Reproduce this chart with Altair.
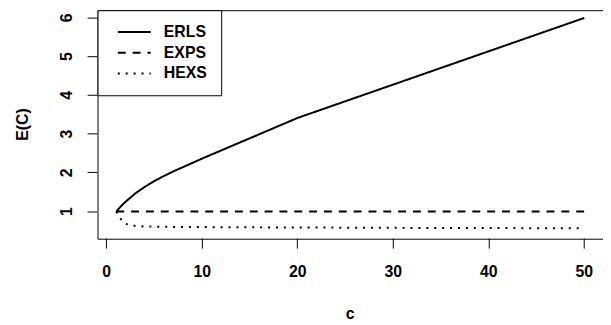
import altair as alt
import pandas as pd

# ---- data ----
c_vals = [1, 1.5, 2, 3, 4, 5, 6, 7, 8, 9, 10, 12, 14, 16, 18, 20, 25, 30, 35, 40, 45, 50]
erls = [1.00, 1.14, 1.26, 1.47, 1.64, 1.79, 1.92, 2.04, 2.15, 2.26, 2.37, 2.58, 2.79, 3.00,
        3.21, 3.42, 3.85, 4.28, 4.71, 5.14, 5.57, 6.00]
exps = [1.00] * len(c_vals)
hexs = [1.00, 0.80, 0.68, 0.63, 0.615, 0.61, 0.607, 0.605, 0.603, 0.601, 0.60, 0.597, 0.595,
        0.593, 0.591, 0.59, 0.585, 0.58, 0.578, 0.575, 0.572, 0.57]

series_names = ["ERLS", "EXPS", "HEXS"]
x_ticks = [0, 10, 20, 30, 40, 50]
y_ticks = [1, 2, 3, 4, 5, 6]

rows = []
for name, vals in zip(series_names, [erls, exps, hexs]):
    for i, (c, v) in enumerate(zip(c_vals, vals)):
        rows.append({"c": c, "E": v, "series": name, "order": i})
df = pd.DataFrame(rows)

FONT = "Liberation Sans"
FS = 16

chart = alt.Chart(df).mark_line(color="black", strokeWidth=2).encode(
    x=alt.X("c:Q",
            scale=alt.Scale(domain=[-0.96, 51.96], nice=False, zero=False),
            axis=alt.Axis(values=x_ticks, title="c", domain=False, grid=False,
                          tickSize=10, tickColor="black", tickWidth=1, translate=0,
                          labelFont=FONT, labelFontSize=FS, labelFontWeight="bold",
                          labelColor="black", labelBaseline="alphabetic", labelPadding=29,
                          labelFlush=False,
                          titleFont=FONT, titleFontSize=FS, titleFontWeight="bold",
                          titleColor="black", titleBaseline="alphabetic", titleY=81)),
    y=alt.Y("E:Q",
            scale=alt.Scale(domain=[0.3, 6.2], nice=False, zero=False),
            axis=alt.Axis(values=y_ticks, title="E(C)", domain=False, grid=False,
                          tickSize=10, tickColor="black", tickWidth=1, translate=0,
                          labelFont=FONT, labelFontSize=FS, labelFontWeight="bold",
                          labelColor="black", labelAngle=270, labelAlign="center",
                          labelBaseline="alphabetic", labelPadding=16, labelFlush=False,
                          titleFont=FONT, titleFontSize=FS, titleFontWeight="bold",
                          titleColor="black", titleAngle=270, titleAlign="center",
                          titleBaseline="alphabetic", titleX=-70)),
    strokeDash=alt.StrokeDash(
        "series:N",
        scale=alt.Scale(domain=series_names, range=[[1, 0], [8, 7], [2, 6]]),
        legend=alt.Legend(orient="none", legendX=0, legendY=0, title=None,
                          strokeColor="black", fillColor="white", padding=14,
                          symbolType="M-0.75,0H15.9", symbolSize=16,
                          symbolStrokeWidth=2, symbolStrokeColor="black",
                          labelFont=FONT, labelFontSize=FS, labelFontWeight="bold",
                          labelColor="black", labelOffset=37, rowPadding=5),
    ),
    detail="series:N",
    order="order:Q",
).properties(
    width=511,
    height=231,
    background="white",
    autosize=alt.AutoSizeParams(type="none"),
    padding={"left": 90.5, "top": 0.5, "right": 0, "bottom": 84},
).configure_view(
    stroke="black", strokeWidth=1
)

chart.save("out.html", embed_options={"renderer": "svg", "actions": False})
